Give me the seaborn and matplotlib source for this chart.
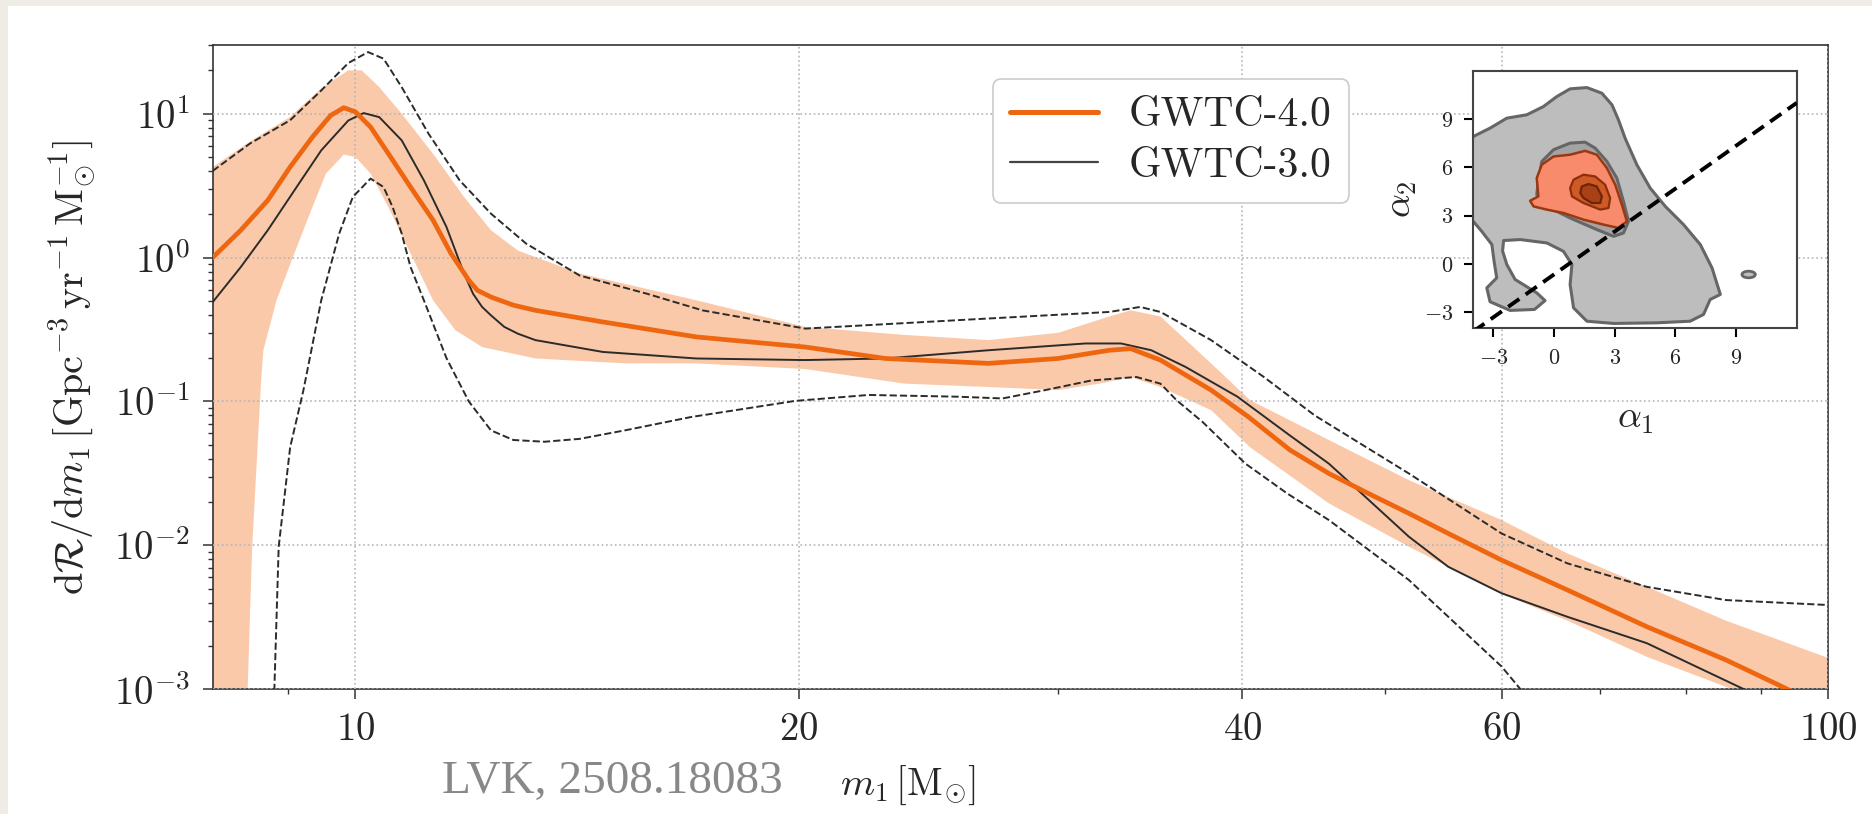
import matplotlib
matplotlib.use("Agg")
import matplotlib.pyplot as plt
from matplotlib.patches import Rectangle, Ellipse
from matplotlib.lines import Line2D
from matplotlib.ticker import FixedLocator, FixedFormatter, NullFormatter, LogLocator
import seaborn as sns

# ---------------- primary-mass spectrum dR/dm1 ----------------
# GWTC-4.0: median and 90% credible band
m4_med = [8.0, 8.36, 8.72, 9.03, 9.35, 9.62, 9.82, 10.0, 10.24, 10.53, 10.9, 11.29, 11.61,
          11.94, 12.1, 12.36, 12.8, 13.25, 14.65, 17.04, 20.2, 22.9, 26.9, 30.0, 32.5, 33.6, 35.2,
          38.1, 40.4, 43.1, 45.8, 48.7, 51.9, 55.2, 60.0, 66.5, 75.3, 85.2, 92.9, 100.0]
r4_med = [1.0, 1.55, 2.5, 4.26, 6.88, 9.72, 11.0, 10.3, 8.07, 5.27, 3.09, 1.82, 1.07,
          0.695, 0.593, 0.532, 0.467, 0.43, 0.36, 0.281, 0.239, 0.199, 0.184, 0.199, 0.227, 0.233, 0.194,
          0.12, 0.078, 0.046, 0.0316, 0.023, 0.0167, 0.0121, 0.0079, 0.0049, 0.00272, 0.0016, 0.00105, 0.00073]

m4_hi = [8.0, 8.48, 9.03, 9.48, 9.89, 10.1, 10.38, 10.75, 11.29, 11.85, 12.36, 12.89, 14.2,
         17.04, 20.2, 23.6, 26.9, 30.0, 32.5, 33.6, 35.2, 38.1, 40.5, 45.8, 51.9, 60.0, 66.5,
         75.3, 85.2, 100.0]
r4_hi = [4.26, 6.4, 9.5, 15.0, 20.0, 20.0, 15.3, 10.0, 5.27, 2.64, 1.55, 1.12, 0.775,
         0.505, 0.33, 0.29, 0.267, 0.30, 0.39, 0.43, 0.39, 0.184, 0.102, 0.054, 0.0284, 0.015, 0.0088,
         0.00515, 0.003, 0.00165]

m4_lo = [8.0, 8.44, 8.45, 8.51, 8.63, 8.66, 8.84, 9.09, 9.35, 9.55, 9.82, 10.0, 10.24, 10.53,
         10.9, 11.29, 11.69, 12.19, 13.25, 15.24, 17.04, 20.2, 23.6, 26.9, 30.0, 32.0, 33.6, 35.2,
         38.1, 40.5, 45.8, 51.9, 60.0, 66.5, 75.3, 85.2, 100.0]
r4_lo = [0.0005, 0.0005, 0.001, 0.0098, 0.14, 0.227, 0.505, 1.07, 2.24, 3.83, 5.2, 5.0, 3.83, 2.24,
         1.07, 0.505, 0.313, 0.239, 0.199, 0.184, 0.184, 0.168, 0.133, 0.126, 0.12, 0.133, 0.148, 0.126,
         0.087, 0.048, 0.0196, 0.0098, 0.0046, 0.003, 0.00168, 0.00104, 0.00056]

# GWTC-3.0: median and 90% credible bounds
m3_med = [8.0, 8.36, 8.72, 9.09, 9.48, 9.89, 10.13, 10.38, 10.75, 11.13, 11.53, 11.85, 12.02,
          12.19, 12.36, 12.62, 12.89, 13.25, 14.72, 17.04, 20.2, 22.9, 26.9, 31.3, 33.1, 34.7, 36.6,
          39.7, 43.1, 45.8, 48.2, 51.9, 55.2, 60.0, 66.5, 75.3, 87.3, 100.0]
r3_med = [0.49, 0.86, 1.55, 2.93, 5.56, 8.97, 10.1, 9.46, 6.53, 3.44, 1.63, 0.775, 0.56,
          0.454, 0.397, 0.33, 0.296, 0.267, 0.221, 0.199, 0.194, 0.199, 0.227, 0.253, 0.253, 0.227, 0.174,
          0.108, 0.058, 0.037, 0.023, 0.0115, 0.0071, 0.00465, 0.00319, 0.00209, 0.00102, 0.00053]

m3_hi = [8.0, 8.48, 9.03, 9.48, 9.89, 10.2, 10.45, 10.75, 11.21, 11.77, 12.36, 13.06, 14.2,
         15.78, 17.2, 20.2, 25.6, 32.5, 34.1, 35.2, 38.1, 41.3, 44.8, 51.9, 60.0, 66.5, 75.3,
         85.2, 100.0]
r3_hi = [4.0, 6.2, 9.0, 14.5, 22.5, 26.8, 24.1, 15.3, 7.27, 3.44, 2.02, 1.25, 0.75,
         0.56, 0.43, 0.321, 0.367, 0.419, 0.454, 0.419, 0.267, 0.15, 0.08, 0.0316, 0.0121, 0.0075, 0.00515,
         0.00417, 0.00385]

m3_lo = [8.79, 8.81, 8.87, 9.03, 9.22, 9.48, 9.75, 9.96, 10.24, 10.45, 10.6, 10.75, 10.9, 11.13,
         11.53, 11.94, 12.36, 12.8, 13.44, 14.2, 15.24, 16.9, 19.9, 22.3, 25.6, 27.5, 29.4, 31.6,
         33.9, 35.2, 36.1, 37.6, 40.2, 42.9, 45.8, 51.9, 60.0, 61.8, 62.5]
r3_lo = [0.0007, 0.001, 0.0098, 0.048, 0.12, 0.505, 1.47, 2.64, 3.54, 3.09, 2.24, 1.47, 0.86, 0.505,
         0.2, 0.1, 0.063, 0.054, 0.0525, 0.055, 0.063, 0.078, 0.101, 0.111, 0.108, 0.105, 0.12, 0.14,
         0.148, 0.133, 0.102, 0.072, 0.037, 0.023, 0.015, 0.00575, 0.00144, 0.001, 0.0008]

x_ticks = [10, 20, 40, 60, 100]
x_ticklabels = [r"$10$", r"$20$", r"$40$", r"$60$", r"$100$"]
x_minor = [9, 30, 50, 70, 80, 90]
y_ticks = [1e-3, 1e-2, 1e-1, 1e0, 1e1]
y_ticklabels = [r"$10^{-3}$", r"$10^{-2}$", r"$10^{-1}$", r"$10^{0}$", r"$10^{1}$"]
series_labels = ["GWTC-4.0", "GWTC-3.0"]

# ---------------- inset: (alpha_1, alpha_2) credible regions ----------------
g3_outer_a1 = [-4.3, -4.0, -3.17, -2.34, -1.35, -0.53, 0.13, 0.79, 1.62, 2.36, 2.86, 3.18, 3.51,
               4.09, 4.75, 5.5, 6.4, 7.23, 7.81, 8.22, 7.72, 7.39, 6.73, 5.08, 2.94, 1.62, 0.96,
               0.79, 0.88, 0.46, -0.36, -1.68, -2.5, -2.55, -2.34, -1.93, -0.86, -0.45, -0.97,
               -2.18, -3.17, -3.33, -2.84, -2.97, -3.08, -3.58, -4.0, -4.3]
g3_outer_a2 = [7.75, 7.91, 8.43, 9.05, 9.26, 9.77, 10.39, 10.87, 10.95, 10.6, 9.88, 8.95, 7.81,
               6.16, 4.71, 3.57, 2.44, 1.2, -0.25, -1.9, -2.21, -3.14, -3.56, -3.66, -3.7, -3.56, -2.73,
               -1.28, -0.04, 0.78, 1.3, 1.51, 1.45, 0.8, -0.04, -0.97, -1.8, -2.28, -2.83,
               -2.89, -2.35, -1.49, -0.87, 0.16, 1.2, 2.02, 2.64, 2.9]
g3_inner_a1 = [-0.78, -0.61, -0.03, 0.79, 1.53, 2.03, 2.61, 3.1, 3.43, 3.68, 3.43, 2.94, 2.11, 0.79, -0.53, -0.86]
g3_inner_a2 = [5.12, 6.36, 7.09, 7.5, 7.56, 7.19, 6.36, 5.33, 3.88, 2.64, 1.92, 1.71, 2.13, 2.85, 3.68, 4.3]
g3_island_center = (9.62, -0.66)
g3_island_size = (0.66, 0.41)

g4_outer_a1 = [-1.19, -0.78, -0.86, -0.61, -0.03, 0.79, 1.53, 2.11, 2.61, 3.02, 3.35, 3.6, 3.18, 2.44, 1.45, 0.46, -0.36, -1.02]
g4_outer_a2 = [3.92, 4.19, 5.33, 6.16, 6.67, 6.78, 7.02, 6.78, 5.95, 4.92, 3.68, 2.64, 2.23, 2.44, 2.75, 3.16, 3.37, 3.57]
g4_mid_a1 = [0.79, 0.96, 1.45, 2.03, 2.52, 2.77, 2.69, 2.28, 1.45, 0.88]
g4_mid_a2 = [4.71, 5.23, 5.54, 5.43, 4.92, 4.09, 3.47, 3.37, 3.78, 4.19]
g4_core_a1 = [1.29, 1.37, 1.7, 2.11, 2.36, 2.28, 1.87, 1.45]
g4_core_a2 = [4.4, 4.81, 4.96, 4.81, 4.19, 3.78, 3.78, 4.09]

ref_line_a1 = [-4.0, 12.0]
ref_line_a2 = [-4.2, 10.0]
inset_ticks = [-3, 0, 3, 6, 9]
inset_ticklabels = [r"$-3$", r"$0$", r"$3$", r"$6$", r"$9$"]

# ---------------- style ----------------
sns.set_theme(style="white")
plt.rcParams["font.family"] = ["cmr10", "DejaVu Serif"]
plt.rcParams["mathtext.fontset"] = "cm"
plt.rcParams["axes.formatter.use_mathtext"] = True
plt.rcParams["axes.unicode_minus"] = False

ORANGE = "#ee6610"
BAND = "#f47a2a"
DARK = "#2b2b2b"
SPINE = "#333333"

fig = plt.figure(figsize=(18.72, 8.14), dpi=100)
fig.patch.set_facecolor("#efece6")
fig.add_artist(Rectangle((8 / 1872, 0), 1, 1 - 6 / 814, transform=fig.transFigure,
                         facecolor="white", edgecolor="none", zorder=-10))

ax = fig.add_axes([0.1136, 0.1532, 0.8631, 0.7915])
ax.set_xscale("log")
ax.set_yscale("log")

# GWTC-4.0 band
ax.fill(list(m4_hi) + list(m4_lo)[::-1], list(r4_hi) + list(r4_lo)[::-1],
        color=BAND, alpha=0.40, lw=0, zorder=1)

sns.lineplot(x=m4_med, y=r4_med, ax=ax, color=ORANGE, lw=3.4, sort=False,
             estimator=None, errorbar=None, zorder=5)
sns.lineplot(x=m3_med, y=r3_med, ax=ax, color=DARK, lw=1.4, sort=False,
             estimator=None, errorbar=None, zorder=4)
for mm, rr in [(m3_hi, r3_hi), (m3_lo, r3_lo)]:
    sns.lineplot(x=mm, y=rr, ax=ax, color=DARK, lw=1.4, sort=False, linestyle="--",
                 estimator=None, errorbar=None, zorder=4)
for ln in ax.lines:
    ln.set_solid_joinstyle("round")
    ln.set_dash_joinstyle("round")

ax.set_xlim(8, 100)
ax.set_ylim(1e-3, 30)

ax.xaxis.set_major_locator(FixedLocator(x_ticks))
ax.xaxis.set_major_formatter(FixedFormatter(x_ticklabels))
ax.xaxis.set_minor_locator(FixedLocator(x_minor))
ax.xaxis.set_minor_formatter(NullFormatter())
ax.yaxis.set_major_locator(FixedLocator(y_ticks))
ax.yaxis.set_major_formatter(FixedFormatter(y_ticklabels))
ax.yaxis.set_minor_locator(LogLocator(base=10, subs=range(2, 10), numticks=20))
ax.yaxis.set_minor_formatter(NullFormatter())

ax.tick_params(which="major", direction="out", length=7.5, width=1.1, color=SPINE,
               labelsize=28, pad=9, bottom=True, left=True)
ax.tick_params(which="minor", direction="out", length=3.5, width=1.0, color=SPINE,
               bottom=True, left=True)
for s in ax.spines.values():
    s.set_color(SPINE)
    s.set_linewidth(1.2)

ax.set_axisbelow(False)
ax.grid(True, which="major", linestyle=":", color="#b5b5b5", lw=1.2)

ax.set_xlabel(r"$m_1\,[\mathrm{M}_{\odot}]$", fontsize=28)
ax.xaxis.set_label_coords(0.43, -0.115)
ax.set_ylabel(r"$\mathrm{d}\mathcal{R}/\mathrm{d}m_1\,[\mathrm{Gpc}^{-3}\,\mathrm{yr}^{-1}\,\mathrm{M}_{\odot}^{-1}]$",
              fontsize=29)
ax.yaxis.set_label_coords(-0.071, 0.5)

handles = [Line2D([], [], color=ORANGE, lw=3.6), Line2D([], [], color="#444444", lw=1.6)]
leg = ax.legend(handles, series_labels, loc="upper left", bbox_to_anchor=(0.4828, 0.9468),
                borderaxespad=0, fontsize=30, handlelength=2.1, handletextpad=0.75,
                borderpad=0.42, labelspacing=0.32, frameon=True, fancybox=True, framealpha=1)
leg.get_frame().set_edgecolor("#cccccc")
leg.get_frame().set_linewidth(1.2)
leg.set_zorder(10)

fig.text(442 / 1872, 1 - 793 / 814, "LVK, 2508.18083", family="Liberation Serif",
         fontsize=34, color="#888888", ha="left", va="baseline")

# ---------------- inset ----------------
axi = fig.add_axes([0.787, 0.5967, 0.1728, 0.3165])
axi.set_facecolor("white")
axi.fill(g3_outer_a1, g3_outer_a2, facecolor="#bdbdbd", edgecolor="#666666", lw=2.2, zorder=1)
axi.add_patch(Ellipse(g3_island_center, *g3_island_size, facecolor="#bdbdbd",
                      edgecolor="#666666", lw=2.0, zorder=1))
axi.fill(g3_inner_a1, g3_inner_a2, facecolor="#a3a3a3", edgecolor="#666666", lw=2.2, zorder=2)
axi.fill(g4_outer_a1, g4_outer_a2, facecolor="#f78b6b", edgecolor="#9a3812", lw=1.8, zorder=3)
axi.fill(g4_mid_a1, g4_mid_a2, facecolor="#cf5a26", edgecolor="#8a300e", lw=1.6, zorder=4)
axi.fill(g4_core_a1, g4_core_a2, facecolor="#a84216", edgecolor="#6e240a", lw=1.6, zorder=5)
for p in axi.patches:
    p.set_joinstyle("round")
axi.plot(ref_line_a1, ref_line_a2, color="black", lw=2.8, linestyle=(0, (3.5, 2.0)), zorder=6)
axi.set_xlim(-4, 12)
axi.set_ylim(-4, 12)
axi.set_xticks(inset_ticks)
axi.set_xticklabels(inset_ticklabels)
axi.set_yticks(inset_ticks)
axi.set_yticklabels(inset_ticklabels)
axi.tick_params(direction="out", length=6.5, width=1.5, color="black", labelsize=16, pad=8,
                bottom=True, left=True)
for s in axi.spines.values():
    s.set_color("#444444")
    s.set_linewidth(1.5)
axi.set_xlabel(r"$\alpha_1$", fontsize=27)
axi.xaxis.set_label_coords(0.5, -0.29)
axi.set_ylabel(r"$\alpha_2$", fontsize=27)
axi.yaxis.set_label_coords(-0.168, 0.5)

fig.savefig("out.png", dpi=100, facecolor=fig.get_facecolor())
